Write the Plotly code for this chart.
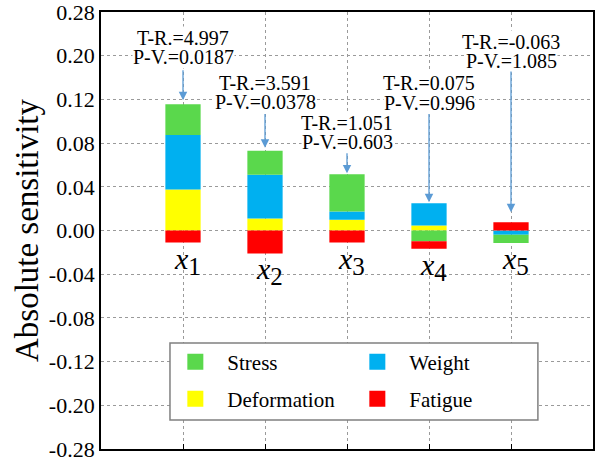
import plotly.graph_objects as go

# ---- data ----
categories = ["x1", "x2", "x3", "x4", "x5"]
cat_sub = ["1", "2", "3", "4", "5"]
deformation = [0.0375, 0.0110, 0.0098, 0.0046, 0.0]
weight = [0.0500, 0.0400, 0.0076, 0.0204, -0.0040]
stress = [0.0280, 0.0220, 0.0340, -0.0098, -0.0074]
fatigue = [-0.0110, -0.0210, -0.0110, -0.0070, 0.0076]
t_ratio = ["4.997", "3.591", "1.051", "0.075", "-0.063"]
p_value = ["0.0187", "0.0378", "0.603", "0.996", "1.085"]
# displayed tick labels (evenly spaced, non-uniform values)
tick_labels = ["-0.28", "-0.20", "-0.12", "-0.08", "-0.04", "0.00",
               "0.04", "0.08", "0.12", "0.20", "0.28"]
tick_pos = [-0.20, -0.16, -0.12, -0.08, -0.04, 0.0, 0.04, 0.08, 0.12, 0.16, 0.20]

FONT = "Liberation Serif"
colors = {"Stress": "#5ad84c", "Weight": "#00b0f0",
          "Deformation": "#ffff00", "Fatigue": "#ff0000"}

fig = go.Figure()
series = [("Deformation", deformation), ("Weight", weight),
          ("Stress", stress), ("Fatigue", fatigue)]
for name, vals in series:
    fig.add_trace(go.Bar(x=categories, y=vals, name=name, width=0.43,
                         marker=dict(color=colors[name], line=dict(width=0)),
                         showlegend=False))

# legend entries (two rows, each its own legend) with bigger square symbols
legend_of = {"Stress": "legend", "Weight": "legend",
             "Deformation": "legend2", "Fatigue": "legend2"}
for rank, name in enumerate(["Stress", "Weight", "Deformation", "Fatigue"]):
    fig.add_trace(go.Scatter(x=[None], y=[None], mode="markers", name=name,
                             legend=legend_of[name], legendrank=rank + 1,
                             marker=dict(symbol="square", size=16, color=colors[name])))

# stack extents
tops, bottoms = [], []
for i in range(len(categories)):
    vals = [s[1][i] for s in series]
    tops.append(sum(v for v in vals if v > 0))
    bottoms.append(sum(v for v in vals if v < 0))

# annotation layout (y positions in axis units)
tr_y = [0.176, 0.135, 0.098, 0.135, 0.173]
pv_y = [0.159, 0.118, 0.081, 0.117, 0.155]
arrow_start = [0.148, 0.108, 0.072, 0.108, 0.147]
standoff = [4, 3, 1, 1, 10]

ann = []
for i, c in enumerate(categories):
    ann.append(dict(x=c, y=tr_y[i], text="T-R.=" + t_ratio[i], showarrow=False,
                    font=dict(family=FONT, size=20, color="black"),
                    bgcolor="white", borderpad=0))
    ann.append(dict(x=c, y=pv_y[i], text="P-V.=" + p_value[i], showarrow=False,
                    font=dict(family=FONT, size=20, color="black"),
                    bgcolor="white", borderpad=0))
    ann.append(dict(x=c, y=tops[i], ax=c, ay=arrow_start[i], axref="x", ayref="y",
                    text="", showarrow=True, arrowhead=2, arrowsize=1.3,
                    arrowwidth=1.3, arrowcolor="#5b9bd5", standoff=standoff[i]))
    ann.append(dict(x=c, y=bottoms[i], yanchor="top", yshift=3, xshift=4,
                    text="<i>x</i><sub><span style='font-size:25px'>" + cat_sub[i]
                         + "</span></sub>", showarrow=False,
                    font=dict(family=FONT, size=30, color="black")))

legend_common = dict(orientation="h", xanchor="left", yanchor="middle",
                     bgcolor="rgba(0,0,0,0)", borderwidth=0,
                     font=dict(family=FONT, size=21, color="black"),
                     entrywidth=113, itemwidth=54)

fig.update_layout(
    barmode="relative",
    width=605, height=461,
    margin=dict(l=101, r=12, t=12, b=12, autoexpand=False),
    plot_bgcolor="white", paper_bgcolor="white",
    font=dict(family=FONT, color="black"),
    annotations=ann,
    shapes=[dict(type="rect", xref="paper", yref="paper", layer="above",
                 x0=0.1402, x1=0.888, y0=0.0664, y1=0.2426,
                 fillcolor="white", line=dict(color="#808080", width=1.5))],
    legend=dict(x=0.1267, y=0.199, **legend_common),
    legend2=dict(x=0.1267, y=0.1144, **legend_common),
)
fig.update_xaxes(range=[-1, 5], showticklabels=False, ticks="inside", ticklen=5,
                 tickcolor="black", showline=True, linecolor="black", linewidth=1.8,
                 mirror=True, showgrid=True, gridcolor="#9a9a9a", griddash="dot",
                 gridwidth=1, zeroline=False, automargin=False)
fig.update_yaxes(range=[-0.20, 0.20], tickvals=tick_pos, ticktext=tick_labels,
                 tickfont=dict(family=FONT, size=22, color="black"),
                 ticklabeloverflow="allow",
                 ticks="", showline=True, linecolor="black", linewidth=1.8, mirror=True,
                 showgrid=True, gridcolor="#9a9a9a",
                 griddash="dot", gridwidth=1, zeroline=False, automargin=False,
                 title=dict(text="Absolute sensitivity", standoff=0,
                            font=dict(family=FONT, size=33, color="black")))

fig.write_html("out.html")
